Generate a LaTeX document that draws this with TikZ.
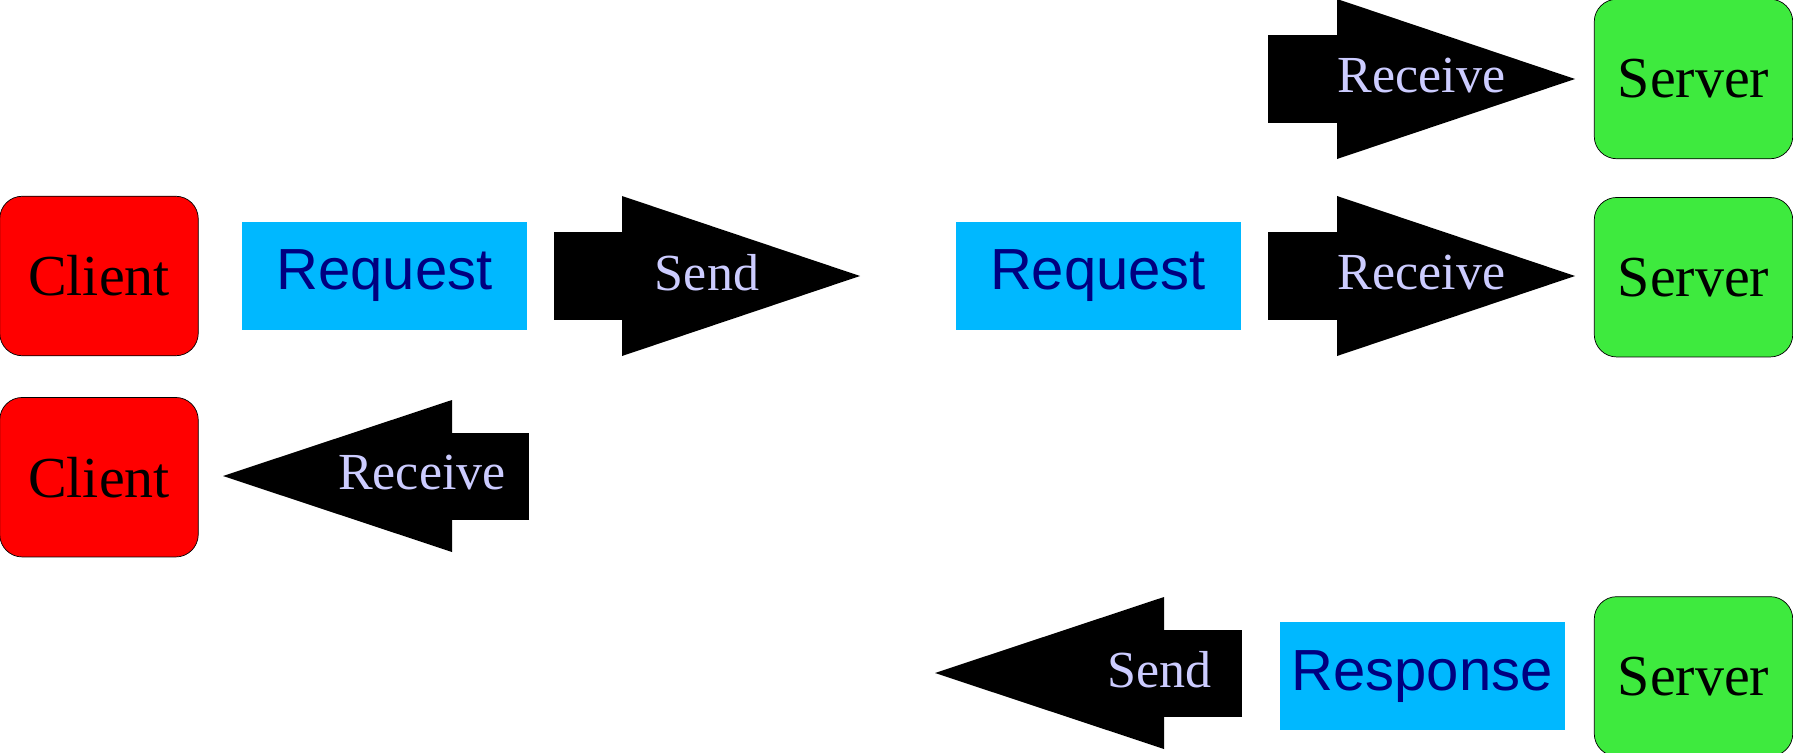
\documentclass[tikz,border=0pt]{standalone}
\usepackage{fontspec}
\setmainfont{Liberation Serif}
\setsansfont{Liberation Sans}
\usetikzlibrary{arrows.meta,positioning}
\definecolor{clientred}{RGB}{255,0,0}
\definecolor{servergreen}{RGB}{62,234,62}
\definecolor{msgblue}{RGB}{0,184,255}
\definecolor{msgtext}{RGB}{0,0,128}
\definecolor{lavender}{RGB}{204,204,255}

\begin{document}
\begin{tikzpicture}[
x=0.2mm, y=-0.2mm,
box/.style   = {fill=#1, draw, thin, rounded corners=0.45cm,
                minimum width=3.97cm, minimum height=3.19cm,
                inner sep=0pt, font=\fontsize{33}{33}\selectfont},
msg/.style   = {fill=msgblue, minimum width=5.7cm, minimum height=2.16cm,
                inner sep=0pt, text=msgtext,
                font=\sffamily\fontsize{33}{33}\selectfont},
Arrow/.style = {line width=1.76cm, draw=black,
                -{Triangle[length=4.76cm,width=3.2cm,line width=0pt]}},
ArrowBack/.style = {line width=1.74cm, draw=black,
                -{Triangle[length=4.58cm,width=3.04cm,line width=0pt]}},
lbl/.style   = {text=lavender, inner sep=0pt, yshift=0.06cm,
                font=\fontsize{29.6}{30}\selectfont},
                    ]
\useasboundingbox (0,0) rectangle (1793,753);

\node[box=clientred]                        (client1) at (99,276) {Client};
\node[msg,right=0.86cm of client1]          (req1)    {Request};
\node[box=clientred,below=0.82cm of client1] (client2) {Client};

\node[box=servergreen]                        (server1) at (1693.5,79) {Server};
\node[box=servergreen,below=0.76cm of server1] (server2) {Server};
\node[box=servergreen,below=4.78cm of server2] (server3) {Server};
\node[msg]                                  (req2) at (1098,276) {Request};
\node[msg,left=0.58cm of server3]           (resp)    {Response};

\coordinate (send1a) at (554,276);
\coordinate (send1b) at (860,276);
\coordinate (recv1a) at (1268,79);
\coordinate (recv1b) at (1575,79);
\coordinate (recv2a) at (1268,276);
\coordinate (recv2b) at (1575,276);
\coordinate (recv3a) at (529,476);
\coordinate (recv3b) at (223,476);
\coordinate (send2a) at (1242,673);
\coordinate (send2b) at (935,673);

\draw[Arrow]     (send1a) -- node[lbl] (lsend1) {Send} (send1b);
\draw[Arrow]     (recv1a) -- node[lbl] (lrecv1) {Receive} (recv1b);
\draw[Arrow]     (recv2a) -- node[lbl] (lrecv2) {Receive} (recv2b);
\draw[ArrowBack] (recv3a) -- node[lbl,pos=0.35] (lrecv3) {Receive} (recv3b);
\draw[ArrowBack] (send2a) -- node[lbl,pos=0.27] (lsend2) {Send} (send2b);
\end{tikzpicture}
\end{document}
